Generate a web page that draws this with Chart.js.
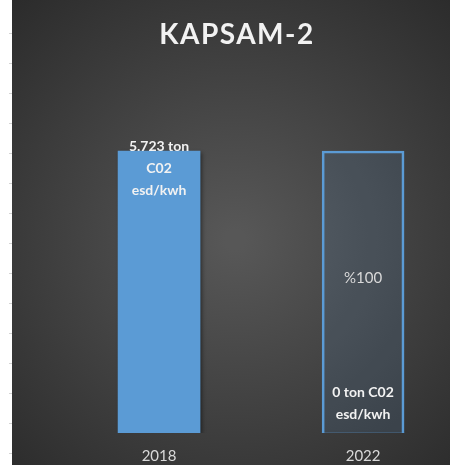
<!DOCTYPE html>
<html>
<head>
<meta charset="utf-8">
<script src="https://cdn.jsdelivr.net/npm/chart.js@4"></script>
<style>
  html, body { margin: 0; padding: 0; background: #fff; overflow: hidden; }
  #wrap { width: 450px; height: 465px; position: relative; }
</style>
</head>
<body>
<div id="wrap"><canvas id="chart"></canvas></div>
<script>
// data
const years = ["2018", "2022"];
const emissions = [5.723, 0];          // ton C02 esd/kwh
const baseline = [null, 5.723];        // 2018 level, drawn as outline in 2022
const valueLabels = [["5.723 ton", "C02", "esd/kwh"], ["0 ton C02", "esd/kwh"]];
const reductionLabels = ["", "%100"];
const chartTitle = "KAPSAM-2";

const BLUE = "#5b9bd5";
const FONT = "Lato, 'Open Sans', sans-serif";

// background panel + faint cut-off ticks on the left strip
const panelBg = {
  id: "panelBg",
  beforeDraw(chart) {
    const { ctx, width, height } = chart;
    ctx.save();
    const g = ctx.createRadialGradient(235, 240, 10, 235, 240, 330);
    g.addColorStop(0, "#575757");
    g.addColorStop(1, "#2b2b2b");
    ctx.fillStyle = g;
    ctx.fillRect(12, 0, width - 12, height);
    ctx.strokeStyle = "#d4d4d4";
    ctx.lineWidth = 1;
    for (let y = 33; y < height; y += 30) {
      ctx.beginPath();
      ctx.moveTo(9, y + 0.5);
      ctx.lineTo(12, y + 0.5);
      ctx.stroke();
    }
    ctx.restore();
    // spaced title letters (title box is drawn right after this hook)
    ctx.letterSpacing = "1.5px";
  },
  beforeDatasetsDraw(chart) {
    chart.ctx.letterSpacing = "0px";
  }
};

// soft shadow under the filled bar
const barShadow = {
  id: "barShadow",
  beforeDatasetDraw(chart, args) {
    if (args.index !== 0) return;
    const ctx = chart.ctx;
    ctx.save();
    ctx.shadowColor = "rgba(0,0,0,0.45)";
    ctx.shadowBlur = 4;
    ctx.shadowOffsetX = 2;
    ctx.shadowOffsetY = 2;
  },
  afterDatasetDraw(chart, args) {
    if (args.index !== 0) return;
    chart.ctx.restore();
  }
};

// data labels
const barLabels = {
  id: "barLabels",
  afterDatasetsDraw(chart) {
    const ctx = chart.ctx;
    const main = chart.getDatasetMeta(0).data;
    const outline = chart.getDatasetMeta(1).data;
    ctx.save();
    ctx.letterSpacing = "0px";
    ctx.textAlign = "center";
    ctx.textBaseline = "middle";
    main.forEach((bar, i) => {
      const lines = valueLabels[i];
      ctx.fillStyle = "#f2f2f2";
      ctx.font = "bold 14px " + FONT;
      if (emissions[i] > 0) {
        lines.forEach((t, k) => ctx.fillText(t, bar.x, bar.y - 5 + k * 22));
      } else {
        const n = lines.length;
        lines.forEach((t, k) => ctx.fillText(t, bar.x, bar.base - 19 - (n - 1 - k) * 22));
      }
    });
    outline.forEach((bar, j) => {
      if (!bar || baseline[j] == null) return;
      ctx.fillStyle = "#d9d9d9";
      ctx.font = "15px " + FONT;
      ctx.fillText(reductionLabels[j], bar.x, (bar.y + bar.base) / 2 - 14);
    });
    ctx.restore();
  }
};

new Chart(document.getElementById("chart"), {
  type: "bar",
  data: {
    datasets: [
      {
        label: "emissions",
        data: emissions.map((v, i) => ({ x: i, y: v })),
        backgroundColor: BLUE,
        borderWidth: 0,
        barThickness: 82,
        order: 1
      },
      {
        label: "baseline",
        data: baseline.map((v, i) => ({ x: i, y: v })),
        backgroundColor: "rgba(91,155,213,0.13)",
        borderColor: BLUE,
        borderWidth: 2,
        barThickness: 82,
        order: 2
      }
    ]
  },
  options: {
    responsive: true,
    maintainAspectRatio: false,
    animation: false,
    grouped: false,
    layout: { padding: { left: 24, right: 0, top: 0, bottom: 1 } },
    plugins: {
      legend: { display: false },
      tooltip: { enabled: false },
      title: {
        display: true,
        text: chartTitle,
        color: "#f2f2f2",
        font: { family: FONT, size: 28, weight: "bold" },
        padding: { top: 18, bottom: 10 }
      }
    },
    scales: {
      x: {
        type: "linear",
        offset: false,
        min: -0.662,
        max: 1.426,
        grid: { display: false, drawTicks: false },
        border: { display: false },
        afterBuildTicks: s => { s.ticks = years.map((_, i) => ({ value: i })); },
        afterFit: s => { s.height = 31; },
        ticks: {
          z: 1,
          color: "#d9d9d9",
          font: { family: FONT, size: 15 },
          padding: 14,
          maxRotation: 0,
          callback: v => years[v]
        }
      },
      y: {
        display: false,
        min: 0,
        max: 7.537
      }
    }
  },
  plugins: [panelBg, barShadow, barLabels]
});
</script>
</body>
</html>
